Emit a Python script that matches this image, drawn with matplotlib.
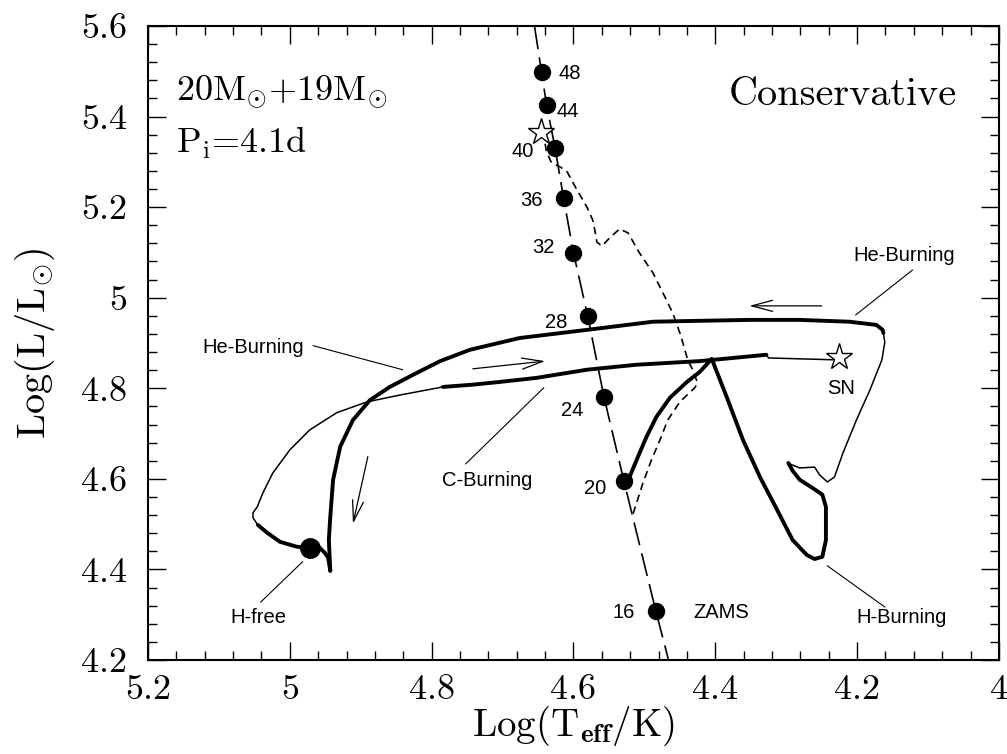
import matplotlib
matplotlib.use("Agg")
import matplotlib.pyplot as plt
from matplotlib.ticker import MultipleLocator, FuncFormatter

plt.rcParams.update({
    "font.family": "cmr10",
    "mathtext.fontset": "cm",
    "axes.formatter.use_mathtext": True,
    "axes.linewidth": 1.5,
})
SANS = "Liberation Sans"

# ZAMS (long dashes) with mass points
zams_line_T = [4.655, 4.645, 4.638, 4.626, 4.614, 4.600, 4.580, 4.557, 4.529, 4.484, 4.466]
zams_line_L = [5.600, 5.498, 5.426, 5.331, 5.220, 5.099, 4.960, 4.781, 4.596, 4.309, 4.200]
zams_T = [4.645, 4.638, 4.626, 4.614, 4.600, 4.580, 4.557, 4.529, 4.484]
zams_L = [5.498, 5.426, 5.331, 5.220, 5.099, 4.960, 4.781, 4.596, 4.309]
zams_mass = ["48", "44", "40", "36", "32", "28", "24", "20", "16"]

# secondary (short dashes)
sec_T = [4.516, 4.511, 4.502, 4.490, 4.478, 4.467, 4.450, 4.429, 4.425, 4.432, 4.439,
         4.449, 4.460, 4.474, 4.488, 4.507, 4.523, 4.535, 4.549, 4.560, 4.567, 4.570,
         4.573, 4.581, 4.595, 4.609, 4.619, 4.631, 4.638, 4.640]
sec_L = [4.523, 4.547, 4.591, 4.642, 4.686, 4.730, 4.770, 4.801, 4.812, 4.841, 4.863,
         4.918, 4.966, 5.011, 5.055, 5.099, 5.143, 5.152, 5.132, 5.114, 5.123, 5.150,
         5.172, 5.200, 5.238, 5.278, 5.289, 5.298, 5.322, 5.340]

# primary track, split by thick/thin pieces
h_burn_T = [4.529, 4.521, 4.509, 4.497, 4.483, 4.464, 4.440, 4.422, 4.405, 4.384, 4.361,
            4.337, 4.313, 4.291, 4.271, 4.260, 4.249, 4.244, 4.244, 4.249, 4.263, 4.281,
            4.291, 4.297]
h_burn_L = [4.596, 4.604, 4.649, 4.693, 4.737, 4.779, 4.814, 4.836, 4.865, 4.781, 4.686,
            4.604, 4.532, 4.465, 4.432, 4.423, 4.428, 4.465, 4.538, 4.565, 4.580, 4.598,
            4.618, 4.635]
rise_T = [4.297, 4.292, 4.281, 4.260, 4.253, 4.242, 4.232, 4.220, 4.201, 4.182, 4.165,
          4.161, 4.163]
rise_L = [4.635, 4.631, 4.624, 4.626, 4.609, 4.593, 4.604, 4.657, 4.730, 4.796, 4.863,
          4.902, 4.922]
he_burn_T = [4.163, 4.164, 4.173, 4.211, 4.281, 4.352, 4.422, 4.488, 4.581, 4.676, 4.746,
             4.788, 4.821, 4.859, 4.887, 4.911, 4.929, 4.939, 4.943, 4.945, 4.943]
he_burn_L = [4.922, 4.929, 4.940, 4.947, 4.951, 4.951, 4.949, 4.947, 4.929, 4.911, 4.885,
             4.860, 4.834, 4.803, 4.774, 4.730, 4.671, 4.598, 4.516, 4.465, 4.397]
hook_T = [4.943, 4.946, 4.951, 4.958, 4.972, 4.990, 5.014, 5.032, 5.045]
hook_L = [4.397, 4.426, 4.437, 4.448, 4.448, 4.450, 4.461, 4.481, 4.498]
back_T = [5.045, 5.052, 5.052, 5.046, 5.038, 5.024, 5.000, 4.972, 4.934, 4.891, 4.845, 4.784]
back_L = [4.498, 4.514, 4.525, 4.538, 4.569, 4.613, 4.664, 4.708, 4.746, 4.770, 4.785, 4.803]
c_burn_T = [4.784, 4.742, 4.704, 4.652, 4.581, 4.511, 4.422, 4.328]
c_burn_L = [4.803, 4.808, 4.814, 4.823, 4.841, 4.852, 4.860, 4.874]
final_T = [4.328, 4.325, 4.281, 4.235, 4.225]
final_L = [4.874, 4.867, 4.865, 4.863, 4.869]

hfree_T, hfree_L = 4.972, 4.448
star_T = [4.646, 4.225]
star_L = [5.366, 4.869]

fig = plt.figure(figsize=(10.07, 7.54), dpi=100)
ax = fig.add_axes([0.147, 0.1247, 0.845, 0.8408])

zams, = ax.plot(zams_line_T, zams_line_L, color="black", lw=1.2)
zams.set_dashes([14, 5])
sec, = ax.plot(sec_T, sec_L, color="black", lw=1.2)
sec.set_dashes([4.5, 3])

THICK, THIN = 2.8, 1.1
for xs, ys, w in [(h_burn_T, h_burn_L, THICK), (rise_T, rise_L, THIN),
                  (he_burn_T, he_burn_L, THICK), (hook_T, hook_L, THICK),
                  (back_T, back_L, THIN), (c_burn_T, c_burn_L, THICK),
                  (final_T, final_L, THIN)]:
    ax.plot(xs, ys, color="black", lw=w, solid_joinstyle="round", solid_capstyle="round")

ax.plot(zams_T, zams_L, "o", color="black", ms=11.5)
ax.plot(hfree_T, hfree_L, "o", color="black", ms=14)
ax.plot(star_T, star_L, "*", mfc="white", mec="black", mew=1.0, ms=20)

# mass labels, offsets in points from each dot
offsets = [(20, -1), (15, -5), (-23, -3), (-23, -2), (-22, 4), (-23, -5), (-23, -10),
           (-21, -6), (-23, -1)]
LBL = 14.5
for t, l, m, off in zip(zams_T, zams_L, zams_mass, offsets):
    ax.annotate(m, (t, l), xytext=off, textcoords="offset points",
                ha="center", va="center", fontsize=LBL, family=SANS)

ax.text(4.391, 4.304, "ZAMS", ha="center", va="center", fontsize=LBL, family=SANS)
ax.text(4.222, 4.799, "SN", ha="center", va="center", fontsize=LBL, family=SANS)

labels = [
    ("He-Burning", (5.051, 4.891), (4.967, 4.894), (4.841, 4.841)),
    ("C-Burning", (4.722, 4.596), (4.752, 4.633), (4.642, 4.801)),
    ("H-free", (5.045, 4.293), (5.041, 4.328), (4.982, 4.417)),
    ("H-Burning", (4.137, 4.293), (4.242, 4.408), (4.161, 4.317)),
    ("He-Burning", (4.133, 5.094), (4.202, 4.962), (4.122, 5.061)),
]
for txt, pos, p0, p1 in labels:
    ax.text(pos[0], pos[1], txt, ha="center", va="center", fontsize=LBL, family=SANS)
    ax.plot([p0[0], p1[0]], [p0[1], p1[1]], color="black", lw=0.8)

arrows = [((4.250, 4.982), (4.352, 4.982)),
          ((4.742, 4.843), (4.640, 4.860)),
          ((4.890, 4.649), (4.911, 4.501))]
for start, end in arrows:
    ax.annotate("", xy=end, xytext=start,
                arrowprops=dict(arrowstyle="->,head_length=0.75,head_width=0.2",
                                mutation_scale=20, color="black", lw=0.9,
                                shrinkA=0, shrinkB=0))

ax.text(0.033, 0.883, r"20M$_{\odot}$+19M$_{\odot}$", transform=ax.transAxes,
        fontsize=26, va="baseline", ha="left")
ax.text(0.033, 0.800, r"P$_{\rm i}$=4.1d", transform=ax.transAxes,
        fontsize=26, va="baseline", ha="left")
ax.text(0.951, 0.875, "Conservative", transform=ax.transAxes,
        fontsize=29, va="baseline", ha="right")

ax.set_xlim(5.2, 4.0)
ax.set_ylim(4.2, 5.6)
ax.xaxis.set_major_locator(MultipleLocator(0.2))
ax.xaxis.set_minor_locator(MultipleLocator(0.04))
ax.yaxis.set_major_locator(MultipleLocator(0.2))
ax.yaxis.set_minor_locator(MultipleLocator(0.04))
fmt = FuncFormatter(lambda v, p: "%g" % round(v, 2))
ax.xaxis.set_major_formatter(fmt)
ax.yaxis.set_major_formatter(fmt)
ax.tick_params(which="both", direction="in", top=True, right=True, width=1.0)
ax.tick_params(which="major", length=13)
ax.tick_params(which="minor", length=6.5)
ax.tick_params(axis="x", labelsize=26, pad=10)
ax.tick_params(axis="y", labelsize=26, pad=15)

ax.set_xlabel(r"Log(T$_{\mathbf{eff}}$/K)", fontsize=28, labelpad=-1)
ax.set_ylabel(r"Log(L/L$_{\odot}$)", fontsize=29, labelpad=17)

fig.savefig("out.png", dpi=100)
